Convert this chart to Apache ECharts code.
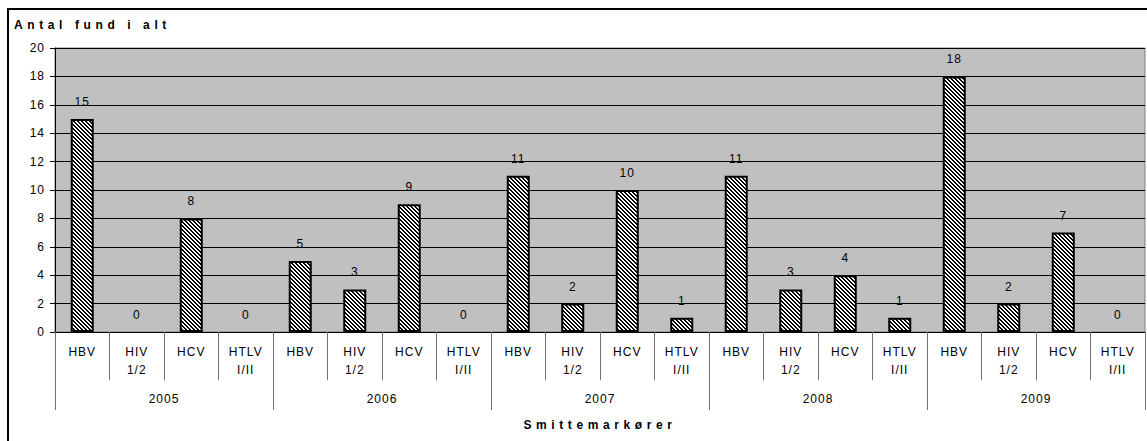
<!DOCTYPE html>
<html>
<head>
<meta charset="utf-8">
<script src="https://cdn.jsdelivr.net/npm/echarts@6/dist/echarts.min.js"></script>
<style>
  html, body { margin: 0; padding: 0; background: #fff; }
  #chart { width: 1147px; height: 441px; }
  #chart text { letter-spacing: 1px; }
  #chart text[style*="bold"] { letter-spacing: 4.6px; }
</style>
</head>
<body>
<div id="chart"></div>
<script>
// ---- data ----
const years = ['2005', '2006', '2007', '2008', '2009'];
const markers = ['HBV', 'HIV\n1/2', 'HCV', 'HTLV\nI/II'];
const v2005 = [15, 0, 8, 0];
const v2006 = [5, 3, 9, 0];
const v2007 = [11, 2, 10, 1];
const v2008 = [11, 3, 4, 1];
const v2009 = [18, 2, 7, 0];
const yTicks = [0, 2, 4, 6, 8, 10, 12, 14, 16, 18, 20];
const yTitle = 'Antal fund i alt';
const xTitle = 'Smittemarkører';

// ---- build ----
const perYear = [v2005, v2006, v2007, v2008, v2009];
const categories = [];
const values = [];
years.forEach(function (y, i) {
  markers.forEach(function (m, j) {
    categories.push(m);
    values.push(perYear[i][j]);
  });
});

// hatch pattern (diagonal "\" stripes)
const tile = document.createElement('canvas');
tile.width = 4; tile.height = 4;
const tctx = tile.getContext('2d');
tctx.fillStyle = '#ffffff';
tctx.fillRect(0, 0, 4, 4);
tctx.fillStyle = '#000000';
for (let y = 0; y < 4; y++) {
  for (let x = 0; x < 4; x++) {
    if (((x - y + 8) % 4) < 2) tctx.fillRect(x, y, 1, 1);
  }
}

const barData = values.map(function (v) {
  return v === 0
    ? { value: v, itemStyle: { borderWidth: 0, color: 'rgba(0,0,0,0)' } }
    : { value: v };
});

const FONT = '"Liberation Sans", Arial, sans-serif';
const chart = echarts.init(document.getElementById('chart'), null, { renderer: 'svg' });

chart.setOption({
  animation: false,
  backgroundColor: '#ffffff',
  textStyle: { fontFamily: FONT },
  title: {
    text: yTitle,
    left: 14,
    top: 19,
    padding: 0,
    textStyle: { fontFamily: FONT, fontSize: 12, fontWeight: 'bold', color: '#000' }
  },
  graphic: [{
    type: 'rect',
    shape: { x: 8, y: 9, width: 1200, height: 1000 },
    style: { fill: 'none', stroke: '#000', lineWidth: 2 },
    silent: true,
    z: 100
  }],
  grid: {
    left: 55, right: 2, top: 48, bottom: 109,
    show: true,
    backgroundColor: '#c0c0c0',
    borderColor: '#808080',
    borderWidth: 1
  },
  xAxis: [{
    type: 'category',
    data: categories,
    position: 'bottom',
    axisLine: { show: true, lineStyle: { color: '#000', width: 1 } },
    axisTick: { show: true, length: 48, interval: 0, lineStyle: { color: '#707070', width: 1 } },
    axisLabel: {
      interval: 0, margin: 11, fontSize: 12, lineHeight: 18, color: '#000', fontFamily: FONT
    }
  }, {
    type: 'category',
    data: years,
    position: 'bottom',
    axisLine: { show: false },
    axisTick: { show: true, length: 78, interval: 0, lineStyle: { color: '#707070', width: 1 } },
    axisLabel: { interval: 0, margin: 61, fontSize: 12, color: '#000', fontFamily: FONT },
    name: xTitle,
    nameLocation: 'middle',
    nameGap: 87,
    nameTextStyle: { fontFamily: FONT, fontSize: 12, fontWeight: 'bold', color: '#000' }
  }],
  yAxis: {
    type: 'value',
    min: yTicks[0],
    max: yTicks[yTicks.length - 1],
    interval: 2,
    axisLine: { show: true, lineStyle: { color: '#000', width: 1 } },
    axisTick: { show: true, length: 5, inside: false, lineStyle: { color: '#000' } },
    axisLabel: { margin: 10, fontSize: 12, color: '#000', fontFamily: FONT },
    splitLine: { show: true, lineStyle: { color: '#000', width: 1 } }
  },
  series: [{
    type: 'bar',
    xAxisIndex: 0,
    data: barData,
    barWidth: 23,
    itemStyle: {
      color: { image: tile, repeat: 'repeat', imageWidth: 4, imageHeight: 4 },
      borderColor: '#000',
      borderWidth: 2
    },
    label: {
      show: true,
      position: 'top',
      distance: 11,
      fontSize: 12,
      color: '#000',
      fontFamily: FONT
    }
  }]
});
</script>
</body>
</html>
